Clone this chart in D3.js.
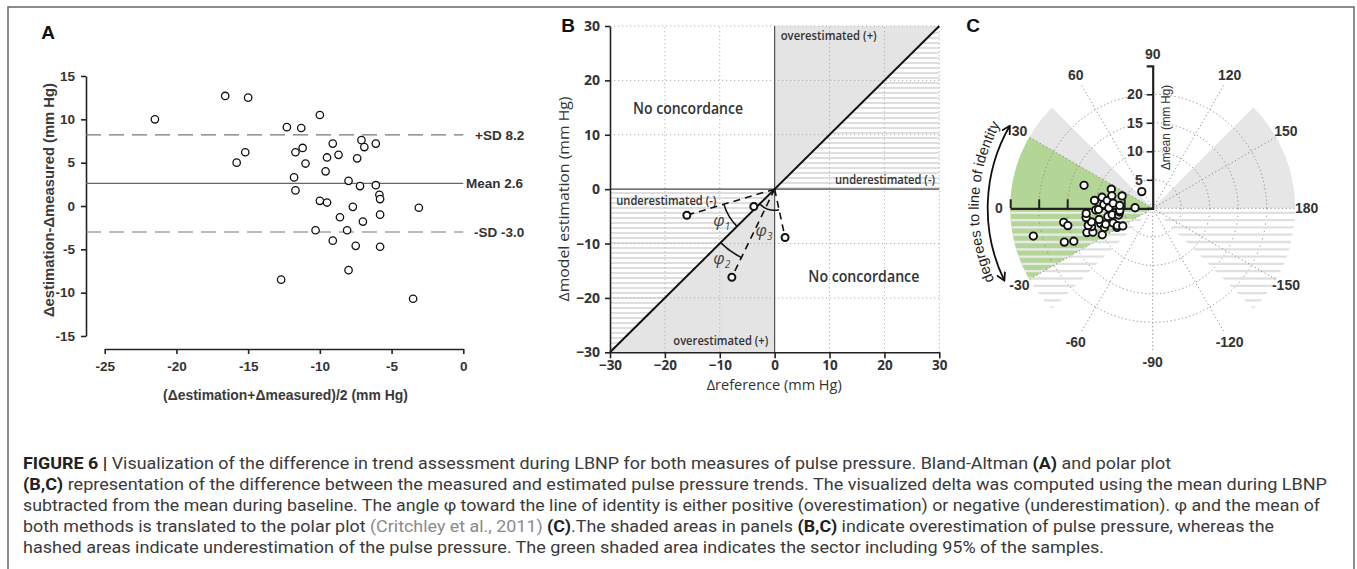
<!DOCTYPE html>
<html><head><meta charset="utf-8">
<script src="https://cdn.jsdelivr.net/npm/d3@7"></script>
<style>body{margin:0;background:#fff}</style>
</head><body>
<svg id="chart" width="1357" height="569"></svg>
<script>
// ---------------- DATA ----------------
// Panel A: Bland-Altman  (mean of both methods, difference)
const baMean = [-21.5,-16.6,-15.0,-15.8,-15.2,-12.7,-12.3,-11.3,-11.2,-11.7,-11.0,-11.8,-11.7,-10.0,-10.0,-9.5,-9.5,-9.6,-9.1,-8.7,-10.3,-9.1,-8.6,-8.0,-8.1,-8.0,-7.7,-7.5,-7.4,-7.2,-7.1,-6.9,-7.0,-6.1,-6.1,-5.85,-5.8,-5.8,-5.8,-3.5,-3.1];
const baDiff = [10.0,12.7,12.5,5.0,6.2,-8.5,9.1,9.0,6.7,6.2,4.9,3.3,1.8,10.5,0.6,0.4,5.6,4.0,7.2,5.9,-2.8,-4.0,-1.3,2.9,-2.8,-7.4,-0.1,-4.6,5.5,2.3,7.6,6.8,-1.8,7.2,2.4,1.3,0.8,-1.0,-4.7,-10.7,-0.2];
const baBias = 2.6, baUpper = 8.2, baLower = -3.0;
const aXTicks = [-25,-20,-15,-10,-5,0];
const aYTicks = [-15,-10,-5,0,5,10,15];
// Panel B: four-quadrant illustration
const bRef = [-16.0,-3.8,-7.8,1.9];
const bEst = [-4.8,-3.2,-16.2,-8.9];
const bTicks = [-30,-20,-10,0,10,20,30];
const bGrid = [-20,-10,10,20,30];
// Panel C: polar plot
const cRadTicks = [5,10,15,20];
const cRings = [5,10,15,20];
const cAngles = [-150,-120,-90,-60,-30,0,30,60,90,120,150,180];
const cSector95 = [-30,30];
// Caption
const captionLines = [
  [["FIGURE 6 | ","b"],["Visualization of the difference in trend assessment during LBNP for both measures of pulse pressure. Bland-Altman ",""],["(A)","b"],[" and polar plot",""]],
  [["(B,C)","b"],[" representation of the difference between the measured and estimated pulse pressure trends. The visualized delta was computed using the mean during LBNP",""]],
  [["subtracted from the mean during baseline. The angle \u03C6 toward the line of identity is either positive (overestimation) or negative (underestimation). \u03C6 and the mean of",""]],
  [["both methods is translated to the polar plot ",""],["(Critchley et al., 2011)","g"],[" ",""],["(C)","b"],[".The shaded areas in panels ",""],["(B,C)","b"],[" indicate overestimation of pulse pressure, whereas the",""]],
  [["hashed areas indicate underestimation of the pulse pressure. The green shaded area indicates the sector including 95% of the samples.",""]]
];
const captionEnds = [1171,1327,1320,1274,1104];

// ---------------- DRAW ----------------
const svg = d3.select('#chart');
const defs = svg.append('defs');
const ARIAL = "'Liberation Sans', Arial, sans-serif";
const OPEN = "'Open Sans', 'Liberation Sans', sans-serif";

svg.append('rect').attr('x',8).attr('y',7).attr('width',1346).attr('height',620)
  .attr('fill','none').attr('stroke','#666').attr('stroke-width',1.5);

function styleAxis(g, fs, font, weight){
  g.select('.domain').attr('stroke','#222').attr('stroke-width',1.6);
  g.selectAll('.tick line').attr('stroke','#222').attr('stroke-width',1.6);
  g.selectAll('.tick text').attr('fill','#333').style('font-family',font).style('font-size',fs+'px').style('font-weight',weight);
}

// ===== Panel A =====
const xA = d3.scaleLinear().domain([-25,0]).range([104.7,463.3]);
const yA = d3.scaleLinear().domain([-15,15]).range([336,76]);
const gA = svg.append('g');
const axYA = gA.append('g').attr('transform','translate(86,0)')
  .call(d3.axisLeft(yA).tickValues(aYTicks).tickFormat(d=>String(d)).tickSize(5).tickSizeOuter(0).tickPadding(6));
styleAxis(axYA,13.5,ARIAL,'bold');
const axXA = gA.append('g').attr('transform','translate(0,349)')
  .call(d3.axisBottom(xA).tickValues(aXTicks).tickFormat(d=>String(d)).tickSize(5).tickSizeOuter(0).tickPadding(7));
styleAxis(axXA,13.5,ARIAL,'bold');

[[baUpper,'15,8','#777'],[baLower,'15,8','#777'],[baBias,null,'#666']].forEach(([v,dash,col])=>{
  const l = gA.append('line').attr('x1',86).attr('x2',xA(0)).attr('y1',yA(v)).attr('y2',yA(v))
    .attr('stroke',col).attr('stroke-width',1.2);
  if(dash) l.attr('stroke-dasharray',dash);
});
const refLab = [[baUpper,'+SD '+baUpper.toFixed(1),475],[baBias,'Mean '+baBias.toFixed(1),466],[baLower,'-SD '+baLower.toFixed(1),474]];
refLab.forEach(([v,t,x])=>{
  gA.append('text').attr('x',x).attr('y',yA(v)).attr('dy','0.36em').text(t)
    .attr('fill','#333').style('font-family',ARIAL).style('font-size','13.5px').style('font-weight','bold');
});
gA.selectAll('circle.pa').data(baMean).join('circle').attr('class','pa')
  .attr('cx',(d)=>xA(d)).attr('cy',(d,i)=>yA(baDiff[i])).attr('r',3.7)
  .attr('fill','#fff').attr('stroke','#111').attr('stroke-width',1.3);
gA.append('text').attr('transform','translate(49,200) rotate(-90)').attr('text-anchor','middle').attr('dy','0.36em')
  .text('\u0394estimation-\u0394measured (mm Hg)').attr('textLength',234).attr('lengthAdjust','spacingAndGlyphs')
  .attr('fill','#3a3a3a').style('font-family',ARIAL).style('font-size','14.5px').style('font-weight','bold');
gA.append('text').attr('x',285.5).attr('y',395).attr('text-anchor','middle').attr('dy','0.36em')
  .text('(\u0394estimation+\u0394measured)/2 (mm Hg)').attr('textLength',245).attr('lengthAdjust','spacingAndGlyphs')
  .attr('fill','#3a3a3a').style('font-family',ARIAL).style('font-size','14.5px').style('font-weight','bold');
svg.append('text').attr('x',48).attr('y',32).attr('text-anchor','middle').attr('dy','0.36em').text('A')
  .attr('fill','#111').style('font-family',ARIAL).style('font-size','19px').style('font-weight','bold');

// ===== Panel B =====
const xB = d3.scaleLinear().domain([-30,30]).range([610,939.3]);
const yB = d3.scaleLinear().domain([-30,30]).range([352.3,26]);
const gB = svg.append('g');
const lineB = d3.line().x(d=>xB(d[0])).y(d=>yB(d[1]));
const grayB = [[[0,0],[0,30],[30,30]],[[-30,-30],[0,-30],[0,0]]];
const hatchB = [[[0,0],[30,30],[30,0]],[[-30,-30],[-30,0],[0,0]]];
gB.selectAll('path.gray').data(grayB).join('path').attr('d',d=>lineB(d)+'Z').attr('fill','#e4e4e4');
const clipB = defs.append('clipPath').attr('id','clipB');
clipB.selectAll('path').data(hatchB).join('path').attr('d',d=>lineB(d)+'Z');
const hb = gB.append('g').attr('clip-path','url(#clipB)');
for(let y=yB(30)+2; y<=yB(-30); y+=5){
  hb.append('line').attr('x1',xB(-30)).attr('x2',xB(30)).attr('y1',y).attr('y2',y).attr('stroke','#dedede').attr('stroke-width',2);
}
bGrid.forEach(v=>{
  gB.append('line').attr('x1',xB(v)).attr('x2',xB(v)).attr('y1',yB(-30)).attr('y2',yB(30))
    .attr('stroke','#b0b0b0').attr('stroke-width',1).attr('stroke-dasharray','1.2,2.8');
  gB.append('line').attr('x1',xB(-30)).attr('x2',xB(30)).attr('y1',yB(v)).attr('y2',yB(v))
    .attr('stroke','#b0b0b0').attr('stroke-width',1).attr('stroke-dasharray','1.2,2.8');
});
gB.append('line').attr('x1',xB(0)).attr('x2',xB(0)).attr('y1',yB(-30)).attr('y2',yB(30)).attr('stroke','#444').attr('stroke-width',1.1);
gB.append('line').attr('x1',xB(-30)).attr('x2',xB(30)).attr('y1',yB(0)).attr('y2',yB(0)).attr('stroke','#444').attr('stroke-width',1.1);
gB.append('path').attr('d',lineB([[-30,-30],[30,30]])).attr('stroke','#111').attr('stroke-width',2).attr('fill','none');
const axYB = gB.append('g').attr('transform',`translate(${xB(-30)},0)`)
  .call(d3.axisLeft(yB).tickValues(bTicks).tickSize(5).tickSizeOuter(0).tickPadding(5));
styleAxis(axYB,14,OPEN,'bold');
const axXB = gB.append('g').attr('transform',`translate(0,${yB(-30)})`)
  .call(d3.axisBottom(xB).tickValues(bTicks).tickSize(6).tickSizeOuter(0).tickPadding(2));
styleAxis(axXB,13.5,OPEN,'bold');
function bText(t,x,y,fs,w,len,rot){
  const el = gB.append('text').attr('text-anchor','middle').attr('dy','0.36em').text(t)
    .attr('fill','#333').style('font-family',OPEN).style('font-size',fs+'px').style('font-weight',w);
  if(rot) el.attr('transform',`translate(${x},${y}) rotate(-90)`); else el.attr('x',x).attr('y',y);
  if(len) el.attr('textLength',len).attr('lengthAdjust','spacingAndGlyphs');
}
bText('No concordance',688,108.3,16,600,110);
bText('No concordance',863.8,276,16,600,111);
bText('overestimated (+)',828.7,35,12.5,600,96);
bText('overestimated (+)',720.8,340,12.5,600,95);
bText('underestimated (-)',885,179.3,12.5,600,100);
bText('underestimated (-)',666.3,200,12.5,600,100);
bText('\u0394reference (mm Hg)',774.2,385,14.5,400,135);
bText('\u0394model estimation (mm Hg)',563.5,199,15,400,205,true);
// dashed lines origin -> points (all but the one on the identity line)
[0,2,3].forEach(i=>{
  gB.append('line').attr('x1',xB(0)).attr('y1',yB(0)).attr('x2',xB(bRef[i])).attr('y2',yB(bEst[i]))
    .attr('stroke','#111').attr('stroke-width',1.6).attr('stroke-dasharray','7,5');
});
function arcPath(ox,oy,r,th0,th1){
  const p = d3.path(); const s0 = -th0*Math.PI/180, s1 = -th1*Math.PI/180;
  p.arc(ox,oy,r,s0,s1,s1<s0); return p.toString();
}
const angDeg = i => { let a = Math.atan2(bEst[i],bRef[i])*180/Math.PI; if(a<0) a+=360; return a; };
const phiArcs = [[0,53],[2,76],[3,21]];
phiArcs.forEach(([i,r])=>{
  gB.append('path').attr('d',arcPath(xB(0),yB(0),r,angDeg(i),225)).attr('fill','none').attr('stroke','#111').attr('stroke-width',1.6);
});
const phiLab = [['1',721.7,220],['2',721.7,258.3],['3',764,230]];
phiLab.forEach(([s,x,y])=>{
  const t = gB.append('text').attr('x',x).attr('y',y).attr('text-anchor','middle').attr('dy','0.36em')
    .attr('fill','#444').style('font-family',OPEN).style('font-size','17px').style('font-style','italic');
  t.append('tspan').text('\u03C6');
  t.append('tspan').attr('dy','4').style('font-size','10px').text(s);
});
gB.selectAll('circle.pb').data(bRef).join('circle').attr('class','pb')
  .attr('cx',d=>xB(d)).attr('cy',(d,i)=>yB(bEst[i])).attr('r',3.5)
  .attr('fill','#fff').attr('stroke','#111').attr('stroke-width',2);
svg.append('text').attr('x',568).attr('y',25).attr('text-anchor','middle').attr('dy','0.36em').text('B')
  .attr('fill','#111').style('font-family',ARIAL).style('font-size','19px').style('font-weight','bold');

// ===== Panel C =====
const cx = 1152.7, cy = 208.3;
const rC = d3.scaleLinear().domain([0,25]).range([0,142.5]);
const gC = svg.append('g');
const gCc = gC.append('g').attr('transform',`translate(${cx},${cy})`);
const aC = phi => (phi-90)*Math.PI/180;
const sector = d3.arc().innerRadius(0).outerRadius(rC(25));
const pC = (phi,r) => [cx - rC(r)*Math.cos(phi*Math.PI/180), cy - rC(r)*Math.sin(phi*Math.PI/180)];
// overestimation (gray) sectors
[[0,45],[135,180]].forEach(([a0,a1])=>{
  gCc.append('path').attr('d',sector({startAngle:aC(a0),endAngle:aC(a1)})).attr('fill','#e6e6e6');
});
// underestimation (hatched) sectors
const clipC = defs.append('clipPath').attr('id','clipC');
[[-45,0],[180,225]].forEach(([a0,a1])=>{
  clipC.append('path').attr('transform',`translate(${cx},${cy})`).attr('d',sector({startAngle:aC(a0),endAngle:aC(a1)}));
});
const hc = gC.append('g').attr('clip-path','url(#clipC)');
for(let y=cy+4.5; y<=cy+rC(25); y+=7.3){
  hc.append('line').attr('x1',cx-rC(25)).attr('x2',cx+rC(25)).attr('y1',y).attr('y2',y).attr('stroke','#e0e0e0').attr('stroke-width',2.3);
}
// 95% sector (green)
gCc.append('path').attr('d',sector({startAngle:aC(cSector95[0]),endAngle:aC(cSector95[1])})).attr('fill','#b3d596');
const clipG = defs.append('clipPath').attr('id','clipG');
clipG.append('path').attr('transform',`translate(${cx},${cy})`).attr('d',sector({startAngle:aC(cSector95[0]),endAngle:aC(0)}));
const hg = gC.append('g').attr('clip-path','url(#clipG)');
for(let y=cy+4.5; y<=cy+rC(25); y+=7.3){
  hg.append('line').attr('x1',cx-rC(25)).attr('x2',cx).attr('y1',y).attr('y2',y).attr('stroke','#fff').attr('stroke-opacity',0.3).attr('stroke-width',2.3);
}
// rings and spokes
cRings.forEach(r=>{
  gCc.append('circle').attr('r',rC(r)).attr('fill','none').attr('stroke','#8a8a8a').attr('stroke-width',1).attr('stroke-dasharray','1.2,2.6');
});
cAngles.filter(a=>a!==0 && a!==90).forEach(a=>{
  const [x2,y2] = pC(a,25);
  gC.append('line').attr('x1',cx).attr('y1',cy).attr('x2',x2).attr('y2',y2)
    .attr('stroke','#8a8a8a').attr('stroke-width',1).attr('stroke-dasharray','1.2,2.6');
});
// radial axes
const yC = d3.scaleLinear().domain([0,25]).range([cy, cy-rC(25)]);
const axYC = gC.append('g').attr('transform',`translate(${cx},0)`)
  .call(d3.axisLeft(yC).tickValues(cRadTicks).tickFormat(d=>String(d)).tickSize(6).tickSizeOuter(6).tickPadding(4));
styleAxis(axYC,14,ARIAL,'bold');
axYC.select('.domain').attr('stroke-width',2.2);
const xC = d3.scaleLinear().domain([0,25]).range([cx, cx-rC(25)]);
const axXC = gC.append('g').attr('transform',`translate(0,${cy})`)
  .call(d3.axisTop(xC).tickValues([5,10,15,20,25]).tickFormat('').tickSize(9).tickSizeOuter(0));
styleAxis(axXC,14,ARIAL,'bold');
axXC.select('.domain').attr('stroke-width',2.2);
axXC.selectAll('.tick line').attr('stroke-width',2);
// angle labels
cAngles.forEach(a=>{
  const [x,y] = pC(a,27);
  gC.append('text').attr('x',x).attr('y',y).attr('text-anchor','middle').attr('dy','0.36em').text(String(a))
    .attr('fill','#333').style('font-family',ARIAL).style('font-size','14px').style('font-weight','bold');
});
gC.append('text').attr('transform','translate(1165,127.5) rotate(-90)').attr('text-anchor','middle').attr('dy','0.36em')
  .text('\u0394mean  (mm Hg)').attr('textLength',85).attr('lengthAdjust','spacingAndGlyphs')
  .attr('fill','#333').style('font-family',ARIAL).style('font-size','13px');
// double arrow + curved label
const mk = defs.append('marker').attr('id','arrC').attr('viewBox','0 0 10 10').attr('refX',9).attr('refY',5)
  .attr('markerWidth',10).attr('markerHeight',10).attr('markerUnits','userSpaceOnUse').attr('orient','auto-start-reverse');
mk.append('path').attr('d','M1,0.5 L9,5 L1,9.5').attr('fill','none').attr('stroke','#111').attr('stroke-width',1.8);
const sA = phi => (phi+180)*Math.PI/180;
const pArr = d3.path(); pArr.arc(cx,cy,165,sA(-26),sA(30),false);
gC.append('path').attr('d',pArr.toString()).attr('fill','none').attr('stroke','#111').attr('stroke-width',1.8)
  .attr('marker-start','url(#arrC)').attr('marker-end','url(#arrC)');
const pTxt = d3.path(); pTxt.arc(cx,cy,174,sA(-27),sA(31.4),false);
defs.append('path').attr('id','degArc').attr('d',pTxt.toString());
gC.append('text').attr('fill','#222').style('font-family',ARIAL).style('font-size','14.5px')
  .append('textPath').attr('href','#degArc').attr('startOffset','50%').attr('text-anchor','middle')
  .text('degrees to line of identity');
// polar points from the Bland-Altman pairs
const cPts = baMean.map((m,i)=>{
  const meas = m - baDiff[i]/2, est = m + baDiff[i]/2;
  let th = Math.atan2(est,meas)*180/Math.PI; if(th<0) th+=360;
  return {phi: th-225, r: Math.abs(m)};
});
gC.selectAll('circle.pc').data(cPts).join('circle').attr('class','pc')
  .attr('cx',d=>pC(d.phi,d.r)[0]).attr('cy',d=>pC(d.phi,d.r)[1]).attr('r',3.7)
  .attr('fill','#fff').attr('stroke','#111').attr('stroke-width',1.9);
svg.append('text').attr('x',973).attr('y',25).attr('text-anchor','middle').attr('dy','0.36em').text('C')
  .attr('fill','#111').style('font-family',ARIAL).style('font-size','19px').style('font-weight','bold');

// ===== Caption =====
const CAP = "'Liberation Sans Narrow','Roboto','Liberation Sans',sans-serif";
captionLines.forEach((segs,i)=>{
  const t = svg.append('text').attr('x',23).attr('y',468.5+i*21)
    .attr('textLength',captionEnds[i]-23).attr('lengthAdjust','spacingAndGlyphs')
    .attr('fill','#3a3a3a').style('font-family',CAP).style('font-size','16.5px').style('white-space','pre');
  segs.forEach(([s,st])=>{
    const ts = t.append('tspan').text(s);
    if(st==='b') ts.style('font-weight','bold').attr('fill','#222');
    if(st==='g') ts.attr('fill','#8a8a8a');
  });
});
</script>
</body></html>
